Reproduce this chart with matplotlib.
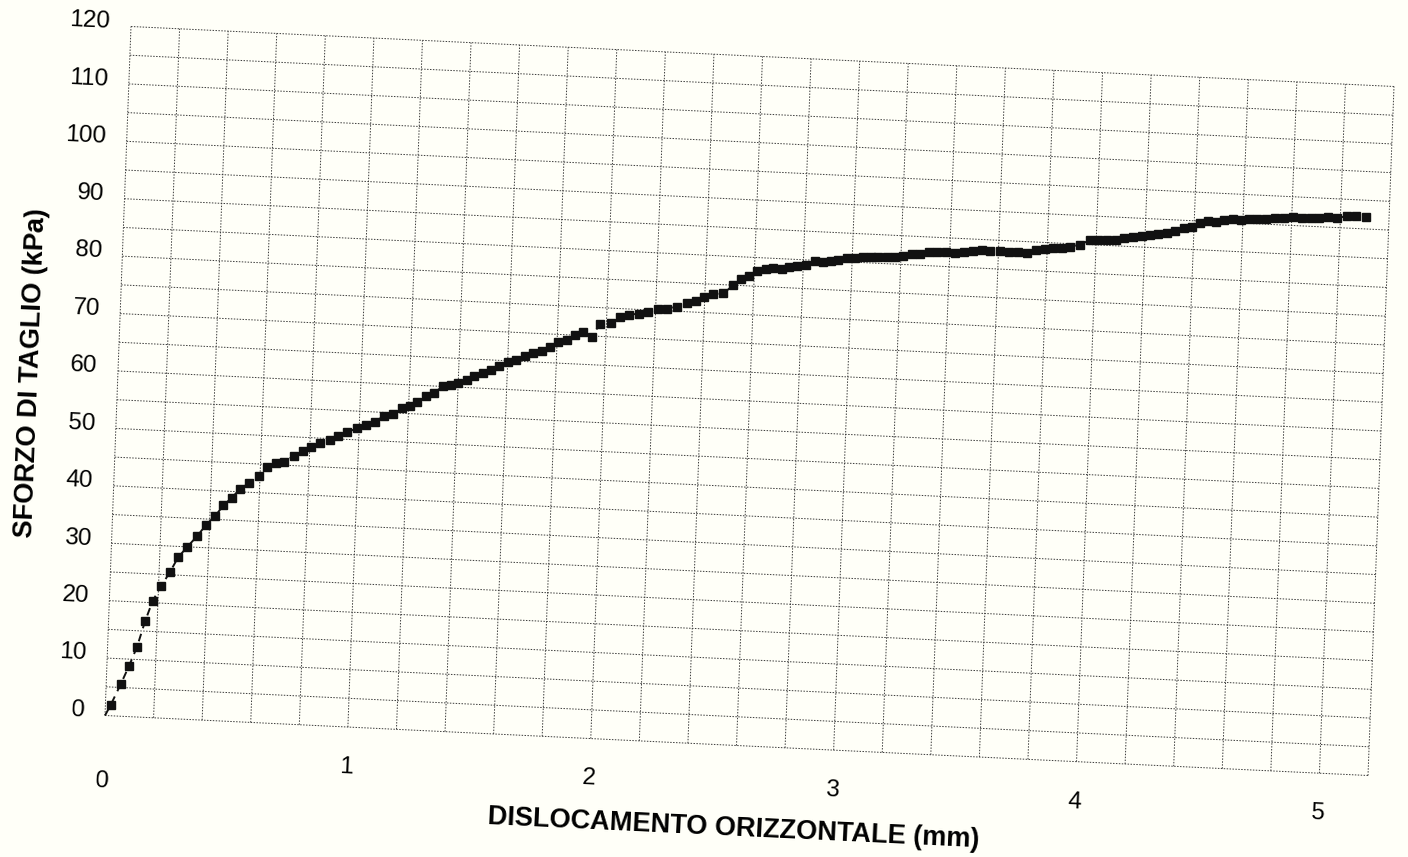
import numpy as np
import matplotlib
matplotlib.use("Agg")
import matplotlib.pyplot as plt
from matplotlib.transforms import Affine2D

# shear test data
displacement = [0.0, 0.022, 0.060, 0.091, 0.121, 0.150, 0.178, 0.210, 0.245, 0.276,
                0.312, 0.352, 0.386, 0.422, 0.454, 0.487, 0.520, 0.556, 0.596, 0.627,
                0.662, 0.696, 0.737, 0.771, 0.805, 0.841, 0.882, 0.916, 0.952, 0.992,
                1.028, 1.064, 1.100, 1.136, 1.172, 1.206, 1.235, 1.270, 1.302, 1.337,
                1.370, 1.400, 1.434, 1.465, 1.499, 1.532, 1.566, 1.600, 1.634, 1.670,
                1.704, 1.738, 1.772, 1.805, 1.839, 1.873, 1.906, 1.942, 1.974, 2.018,
                2.055, 2.093, 2.134, 2.170, 2.211, 2.248, 2.289, 2.327, 2.365, 2.397,
                2.435, 2.476, 2.516, 2.545, 2.580, 2.612, 2.647, 2.677, 2.712, 2.743,
                2.776, 2.811, 2.848, 2.879, 2.912, 2.943, 2.977, 3.012, 3.045, 3.076,
                3.107, 3.142, 3.176, 3.207, 3.244, 3.278, 3.316, 3.349, 3.385, 3.422,
                3.460, 3.497, 3.531, 3.565, 3.606, 3.645, 3.682, 3.716, 3.754, 3.791,
                3.825, 3.859, 3.893, 3.934, 3.975, 4.009, 4.043, 4.081, 4.114, 4.152,
                4.186, 4.220, 4.254, 4.289, 4.323, 4.359, 4.390, 4.424, 4.458, 4.490,
                4.522, 4.558, 4.591, 4.626, 4.659, 4.695, 4.731, 4.768, 4.804, 4.841,
                4.878, 4.912, 4.950, 4.985, 5.026, 5.064, 5.105]

shear_stress = [0.0, 1.9, 5.6, 8.8, 12.2, 16.7, 20.3, 22.9, 25.5, 28.1,
                30.0, 32.0, 34.0, 35.6, 37.5, 38.9, 40.5, 41.6, 42.9, 44.5,
                45.3, 45.6, 46.7, 47.7, 48.4, 49.1, 49.8, 50.5, 51.3, 52.0,
                52.7, 53.3, 54.4, 54.8, 55.9, 56.3, 57.1, 58.2, 58.8, 60.0,
                60.3, 60.8, 61.4, 62.0, 62.6, 63.3, 64.0, 64.7, 65.2, 66.0,
                66.5, 67.0, 67.8, 68.6, 69.1, 70.0, 70.7, 69.9, 72.2, 72.4,
                73.5, 74.0, 74.3, 74.7, 75.2, 75.4, 75.8, 76.5, 77.0, 77.7,
                78.3, 78.5, 80.0, 81.1, 81.7, 82.7, 83.0, 83.3, 83.3, 83.6,
                83.9, 84.1, 84.8, 84.8, 85.0, 85.3, 85.6, 85.7, 86.0, 86.0,
                86.1, 86.1, 86.3, 86.5, 86.9, 87.0, 87.4, 87.5, 87.6, 87.5,
                87.7, 88.0, 88.1, 88.1, 88.1, 88.1, 88.1, 88.1, 88.6, 88.8,
                89.1, 89.2, 89.5, 89.9, 90.8, 90.8, 90.9, 91.1, 91.4, 91.6,
                91.9, 92.2, 92.4, 92.7, 93.0, 93.6, 93.9, 94.7, 95.0, 95.0,
                95.4, 95.6, 95.6, 95.7, 95.8, 95.9, 96.2, 96.3, 96.4, 96.3,
                96.4, 96.6, 96.8, 96.6, 97.1, 97.1, 97.1]

x_ticks = [0, 1, 2, 3, 4, 5]
y_ticks = list(range(0, 121, 10))

XMAX, YMAX = 5.2, 120
W, H = 1408, 857
TILT = -2.7  # the sheet was scanned slightly rotated

fig = plt.figure(figsize=(W / 100, H / 100), dpi=100)
fig.patch.set_facecolor("#fffff8")

ax = fig.add_axes([105 / W, 141.5 / H, 1263 / W, 689 / H])
ax.set_autoscale_on(False)
ax.set_xlim(0, XMAX)
ax.set_ylim(0, YMAX)
ax.axis("off")

# skew in axes units so the grid follows the scanned page
skew = Affine2D(np.array([[1.0, 26 / 1263, 0.0],
                          [-60 / 689, 1.0, 0.0],
                          [0.0, 0.0, 1.0]]))
T = ax.transScale + ax.transLimits + skew + ax.transAxes

grid_kw = dict(color="#3a3a3a", lw=0.7, ls=(0, (1.5, 1.5)), transform=T, clip_on=False)
for xv in np.arange(0, XMAX + 0.01, 0.2):
    ax.plot([xv, xv], [0, YMAX], **grid_kw)
for yv in range(0, YMAX + 1, 5):
    ax.plot([0, XMAX], [yv, yv], **grid_kw)

ax.plot(displacement, shear_stress, color="#111111", lw=1.4, ls=(0, (4, 3)),
        marker="s", ms=5.8, markevery=list(range(1, len(displacement))),
        transform=T, clip_on=False, zorder=5)

font = "Liberation Sans"
for xv in x_ticks:
    off = -11.4 if xv == 0 else -7.0
    ax.text(xv, off, str(xv), transform=T, ha="center", va="center", fontsize=17.5,
            family=font, rotation=TILT, rotation_mode="anchor")
for yv in y_ticks:
    ax.text(-0.085, yv + 0.6, str(yv), transform=T, ha="right", va="center", fontsize=17.5,
            family=font, rotation=TILT, rotation_mode="anchor")

ax.text(2.6, -14.4, "DISLOCAMENTO ORIZZONTALE (mm)", transform=T, ha="center", va="center",
        fontsize=19.5, fontweight="bold", family=font, rotation=TILT, rotation_mode="anchor")
ax.text(-0.357, 59, "SFORZO DI TAGLIO (kPa)", transform=T, ha="center", va="center",
        fontsize=19.5, fontweight="bold", family=font, rotation=87.8, rotation_mode="anchor")

fig.savefig("out.png", dpi=100, facecolor=fig.get_facecolor())
